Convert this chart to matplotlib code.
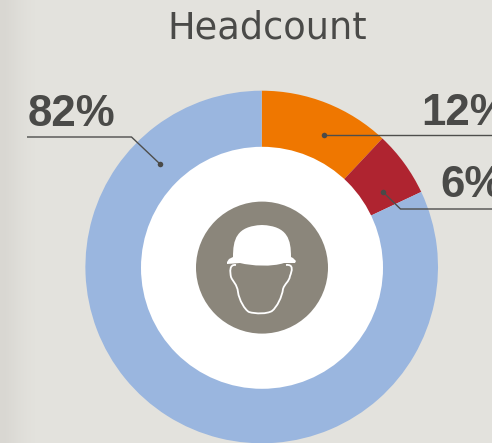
import numpy as np
import matplotlib
matplotlib.use("Agg")
import matplotlib.pyplot as plt
from matplotlib.patches import Circle, PathPatch
from matplotlib.path import Path

title = "Headcount"
categories = ["Orange", "Red", "Blue"]
values = [12, 6, 82]
colors = ["#EF7700", "#AF2430", "#9AB6DF"]
labels = ["12%", "6%", "82%"]

W, H = 492, 443
INK = "#4A4A48"
fig = plt.figure(figsize=(W / 100, H / 100), dpi=100)
ax = fig.add_axes([0, 0, 1, 1])

# paper background with a slightly darker left edge
grad = np.ones((1, 62))
grad[0, :4] = [0.0, 0.3, 0.6, 0.85]
ax.imshow(grad, extent=(0, W, H, 0), aspect="auto", zorder=0,
          cmap=matplotlib.colors.LinearSegmentedColormap.from_list("p", ["#D9D7D2", "#E3E2DD"]),
          interpolation="bilinear")

cx, cy, R = 261.7, 267, 176.3
# y axis is inverted, so counterclock=True sweeps clockwise on screen
wedges, _ = ax.pie(values, colors=colors, startangle=-90, center=(cx, cy), radius=R,
                   counterclock=True, frame=True, wedgeprops=dict(linewidth=0))
for w in wedges:
    w.set_zorder(1)
ax.set_aspect("auto")
ax.set_xlim(0, W)
ax.set_ylim(H, 0)
ax.axis("off")

ax.add_patch(Circle((262, 267.8), 121, fc="white", ec="none", zorder=2))
ax.add_patch(Circle((262, 267.6), 66, fc="#8B867B", ec="none", zorder=3))

# helmet
M, L, C = Path.MOVETO, Path.LINETO, Path.CURVE4
helmet = [((227, 262), M), ((229, 259), L), ((233, 257), L),
          ((233, 240), C), ((236, 226), C), ((262, 225), C),
          ((288, 226), C), ((291, 240), C), ((291, 257), C),
          ((293, 258), L), ((296, 261), L), ((295, 263), L),
          ((284, 263), L), ((272, 267), C), ((252, 266), C), ((240, 263), C),
          ((227, 264), L), ((227, 262), L)]
ax.add_patch(PathPatch(Path([p for p, _ in helmet], [c for _, c in helmet]),
                       fc="white", ec="none", zorder=4))
face = [((236, 265), M), ((229, 264), C), ((230, 272), C), ((231, 277), C),
        ((233, 282), C), ((237, 284), C), ((238, 292), C),
        ((239, 300), C), ((245, 310), C), ((249, 312), C),
        ((256, 314), C), ((267, 314), C), ((272, 311), C),
        ((277, 307), C), ((282, 297), C), ((283, 289), C),
        ((285, 283), C), ((289, 282), C), ((290, 276), C),
        ((292, 271), C), ((294, 264), C), ((286, 265), C)]
ax.add_patch(PathPatch(Path([p for p, _ in face], [c for _, c in face]),
                       fc="none", ec="white", lw=1.3, zorder=4))

# leader lines
for xs, ys, dot in [((27, 131.5, 160), (137, 137, 164), (160, 164)),
                    ((324, 492), (135, 135), (324, 135)),
                    ((383, 400.5, 492), (192, 209, 209), (383, 192))]:
    ax.plot(xs, ys, color="#4E4E4C", lw=1.0, zorder=5, solid_capstyle="butt")
    ax.plot(*dot, "o", ms=4, color="#4A4A48", mew=0, zorder=6)

ax.text(267, 38, title, ha="center", va="baseline", fontsize=26.5, color=INK,
        family="DejaVu Sans")
for s, x, y in [(labels[2], 28, 126), (labels[0], 421, 124.5), (labels[1], 440, 196.5)]:
    ax.text(x, y, s, ha="left", va="baseline", fontsize=31.5, fontweight="bold",
            color=INK, family="Liberation Sans", clip_on=True)

fig.savefig("out.png", dpi=100)
